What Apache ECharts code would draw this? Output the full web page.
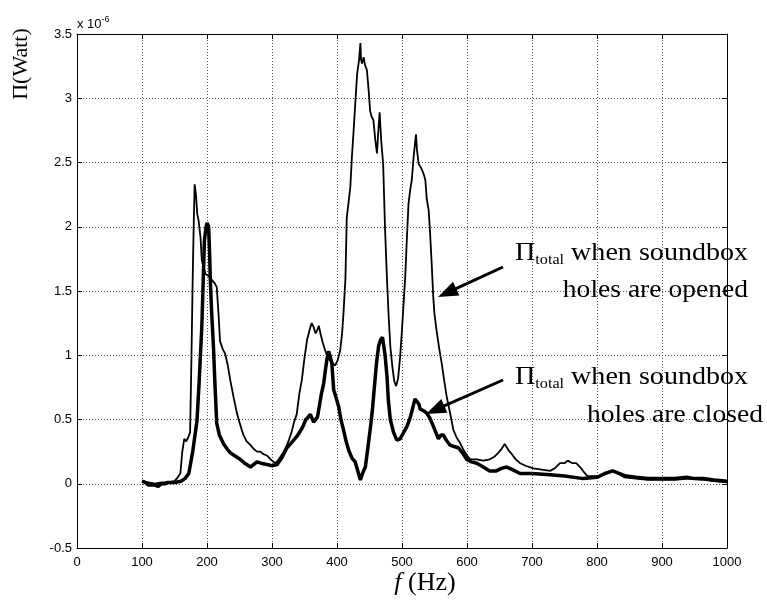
<!DOCTYPE html>
<html><head><meta charset="utf-8">
<script src="https://cdn.jsdelivr.net/npm/echarts@6/dist/echarts.min.js"></script>
<style>html,body{margin:0;padding:0;background:#fff}#c{width:767px;height:604px}</style>
</head><body><div id="c"></div>
<script>
// Frequencies (Hz) and radiated power (x 1e-6 W), soundbox holes opened
const openedHz = [100,110,120,130,140,150,155,159,162,165,168,171,174,176,178,179.5,181,183,185,187,190,192,195,198,202,205,208,212,215,218,220,224,228,232,236,241,246,251,256,261,267,272,277,282,287,292,298,305,309,313,318,322,326,330,334,338,342,346,350,354,358,361,364,367,370,372,375,378,381,385,389,393,397,401,405,408,410,413,415,418,420.5,423,425.6,428,431,434,436,437,438.5,441,443,446,448.7,451,453,456,459,461.5,463,465.6,468,471,474,477,479.5,482,485,488,491,494,497,500,503,505,507,510,513,515,518,521.5,523,525.6,528,531,534,536,538,541,543,545.6,548,550,553,557,561,565,568.7,574,579,584,589,595,600,605,615,625,635,642,648,653,658,660,664,669,675,682,690,702,715,728,735,743,750,755,762,768,774,780,785,795,805,815,824,832,842,860,878,900,920,940,964,980,1000];
const openedVal = [0.02,0.01,0.00,0.01,0.01,0.02,0.05,0.08,0.25,0.35,0.33,0.36,0.40,0.96,1.60,2.00,2.33,2.25,2.10,2.05,1.92,1.74,1.68,1.63,1.62,1.60,1.60,1.56,1.53,1.30,1.11,1.05,1.01,0.92,0.80,0.67,0.55,0.46,0.38,0.33,0.30,0.27,0.25,0.25,0.23,0.22,0.19,0.16,0.18,0.21,0.25,0.29,0.34,0.40,0.48,0.54,0.70,0.81,0.98,1.12,1.20,1.25,1.22,1.17,1.20,1.23,1.16,1.10,1.05,0.99,0.96,0.94,0.92,0.96,1.04,1.18,1.33,1.60,2.07,2.20,2.31,2.55,2.75,2.95,3.19,3.30,3.43,3.30,3.27,3.32,3.26,3.22,3.06,2.90,2.86,2.83,2.67,2.57,2.70,2.89,2.67,2.49,1.97,1.58,1.30,1.07,0.92,0.80,0.76,0.82,0.98,1.20,1.45,1.61,1.85,2.18,2.30,2.36,2.55,2.72,2.60,2.49,2.47,2.44,2.40,2.36,2.22,2.13,1.97,1.72,1.46,1.32,1.20,1.06,0.94,0.80,0.68,0.55,0.42,0.36,0.32,0.26,0.22,0.19,0.19,0.18,0.19,0.21,0.24,0.27,0.31,0.30,0.26,0.23,0.19,0.16,0.14,0.12,0.11,0.10,0.12,0.16,0.16,0.18,0.16,0.16,0.13,0.09,0.06,0.06,0.06,0.08,0.10,0.08,0.05,0.04,0.03,0.03,0.03,0.04,0.03,0.02,0.01];

// Soundbox holes closed
const closedHz = [100,105,110,115,120,125,130,135,140,150,160,166,172,178,184.6,188,192,194,196,198,200,202.5,204,205,207,210,212,215,219,225.6,231,236,242,251,258,267,272,277,283,292,300,308,315,323,330,338.5,343.6,348,352,356,359,361.5,364,367,370,372,376,379.5,382,384.6,387,389,392,394.9,398,402.6,406,410,414,418,423,428,432,436,440,443.6,448,451,454,458,461,464,467,470,472,474,477,479,482,487,492,497,502.6,508,513,517,520,523,526,528,533,538,543,548,552,556,560,563.6,568,574,580,586.7,593,599.5,607,615,625,635,645,653,661,670,681.5,700,727.7,750,779,800,812,824,834,845,860,878,900,920,938,950,964,980,1000];
const closedVal = [0.02,0.01,-0.01,-0.01,-0.01,-0.02,0.00,0.00,0.01,0.01,0.02,0.04,0.08,0.25,0.49,0.80,1.22,1.55,1.89,1.98,2.03,2.00,1.80,1.60,1.35,1.06,0.80,0.47,0.38,0.31,0.27,0.24,0.22,0.19,0.16,0.13,0.15,0.17,0.16,0.15,0.14,0.15,0.20,0.28,0.32,0.37,0.41,0.45,0.50,0.52,0.54,0.55,0.48,0.47,0.52,0.58,0.70,0.78,0.88,0.97,1.03,1.00,0.94,0.73,0.68,0.60,0.50,0.42,0.33,0.26,0.20,0.17,0.10,0.03,0.09,0.13,0.30,0.42,0.55,0.78,0.95,1.07,1.12,1.14,1.13,1.00,0.83,0.65,0.50,0.40,0.34,0.35,0.40,0.45,0.52,0.60,0.66,0.65,0.62,0.58,0.57,0.55,0.51,0.45,0.40,0.35,0.38,0.38,0.34,0.30,0.29,0.28,0.24,0.19,0.17,0.16,0.13,0.10,0.10,0.12,0.13,0.11,0.08,0.08,0.07,0.06,0.04,0.05,0.08,0.10,0.08,0.06,0.05,0.04,0.04,0.04,0.05,0.04,0.04,0.03,0.02];

// Axis ticks
const xTicks = [0,100,200,300,400,500,600,700,800,900,1000];
const yTicks = [-0.5,0,0.5,1,1.5,2,2.5,3,3.5];

const zip = (a, b) => a.map((v, i) => [v, b[i]]);
const serif = '"Liberation Serif", "Times New Roman", serif';
const sans = '"Liberation Sans", Arial, sans-serif';

const chart = echarts.init(document.getElementById('c'), null, {renderer: 'canvas'});

const gridLine = {show: true, lineStyle: {type: [1, 2], color: '#555', width: 1}};
const tick = {show: true, inside: true, length: 5, lineStyle: {color: '#000', width: 1}};
const axLine = {show: true, onZero: false, lineStyle: {color: '#000', width: 1}};
const plainNum = v => String(v);

function arrow(tail, tipPt, L, W, lw) {
  const dx = tipPt[0] - tail[0], dy = tipPt[1] - tail[1];
  const len = Math.hypot(dx, dy);
  const ux = dx / len, uy = dy / len, nx = -uy, ny = ux;
  const bx = tipPt[0] - ux * L, by = tipPt[1] - uy * L;
  return [
    {type: 'line', shape: {x1: tail[0], y1: tail[1], x2: bx + ux * 2, y2: by + uy * 2}, style: {stroke: '#000', lineWidth: lw}, z: 100},
    {type: 'polygon', shape: {points: [[tipPt[0], tipPt[1]], [bx + nx * W / 2, by + ny * W / 2], [bx - nx * W / 2, by - ny * W / 2]]}, style: {fill: '#000'}, z: 100}
  ];
}

const annRich = {
  a: {fontFamily: serif, fontSize: 26, lineHeight: 30, fill: '#000', verticalAlign: 'middle'},
  s: {fontFamily: serif, fontSize: 15, lineHeight: 20, fill: '#000', verticalAlign: 'bottom'}
};

chart.setOption({
  animation: false,
  backgroundColor: '#fff',
  grid: {left: 77, right: 40, top: 34, bottom: 56, show: false},
  xAxis: [
    {type: 'value', position: 'bottom', min: xTicks[0], max: xTicks[xTicks.length - 1], interval: xTicks[1] - xTicks[0],
      axisLine: axLine, axisTick: tick, splitLine: gridLine,
      axisLabel: {color: '#000', fontSize: 13, fontFamily: sans, margin: 8, formatter: plainNum}},
    {type: 'value', position: 'top', min: xTicks[0], max: xTicks[xTicks.length - 1], interval: xTicks[1] - xTicks[0],
      axisLine: axLine, axisTick: tick, splitLine: {show: false}, axisLabel: {show: false}}
  ],
  yAxis: [
    {type: 'value', position: 'left', min: yTicks[0], max: yTicks[yTicks.length - 1], interval: yTicks[1] - yTicks[0],
      axisLine: axLine, axisTick: tick, splitLine: gridLine,
      axisLabel: {color: '#000', fontSize: 13, fontFamily: sans, margin: 5, formatter: plainNum}},
    {type: 'value', position: 'right', min: yTicks[0], max: yTicks[yTicks.length - 1], interval: yTicks[1] - yTicks[0],
      axisLine: axLine, axisTick: tick, splitLine: {show: false}, axisLabel: {show: false}}
  ],
  series: [
    {name: 'opened', type: 'line', xAxisIndex: 0, yAxisIndex: 0, data: zip(openedHz, openedVal),
      showSymbol: false, symbol: 'none', lineStyle: {color: '#000', width: 1.8}, z: 3},
    {name: 'closed', type: 'line', xAxisIndex: 0, yAxisIndex: 0, data: zip(closedHz, closedVal),
      showSymbol: false, symbol: 'none', lineStyle: {color: '#000', width: 3.5}, z: 4}
  ],
  graphic: [
    {type: 'text', x: 77, y: 23, style: {text: '{a|x 10}{s|-6}', textVerticalAlign: 'middle',
      rich: {a: {fontFamily: sans, fontSize: 13, fill: '#000', verticalAlign: 'bottom', lineHeight: 16},
             s: {fontFamily: sans, fontSize: 9, fill: '#000', verticalAlign: 'top', lineHeight: 10}}}},
    {type: 'text', x: 21, y: 64, rotation: Math.PI / 2, style: {text: 'Π(Watt)', font: '22px ' + serif, fill: '#000', textAlign: 'center', textVerticalAlign: 'middle'}},
    {type: 'text', x: 425, y: 583, style: {text: '{i|f}{n| (Hz)}', textAlign: 'center', textVerticalAlign: 'middle',
      rich: {i: {fontFamily: serif, fontStyle: 'italic', fontSize: 26, fill: '#000'}, n: {fontFamily: serif, fontSize: 26, fill: '#000'}}}},
    {type: 'text', x: 515, y: 253, scaleX: 1.08, z: 100, style: {text: '{a|Π}{s|total}{a| when soundbox}', textAlign: 'left', textVerticalAlign: 'middle', rich: annRich}},
    {type: 'text', x: 748, y: 290, scaleX: 1.06, z: 100, style: {text: '{a|holes are opened}', textAlign: 'right', textVerticalAlign: 'middle', rich: annRich}},
    {type: 'text', x: 515, y: 377, scaleX: 1.08, z: 100, style: {text: '{a|Π}{s|total}{a| when soundbox}', textAlign: 'left', textVerticalAlign: 'middle', rich: annRich}},
    {type: 'text', x: 763, y: 415, scaleX: 1.06, z: 100, style: {text: '{a|holes are closed}', textAlign: 'right', textVerticalAlign: 'middle', rich: annRich}},
    ...arrow([503, 267], [438, 297], 20, 15, 3),
    ...arrow([503, 380], [426, 414], 20, 15, 3)
  ]
});
</script>
</body></html>
